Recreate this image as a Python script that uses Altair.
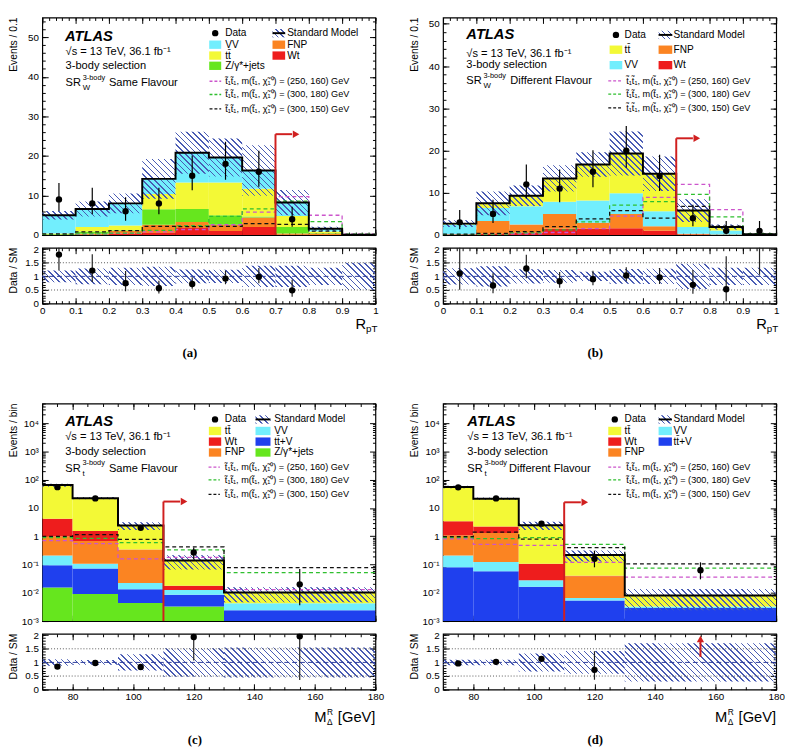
import math
import altair as alt
import pandas as pd

# ============================ values ============================
EDGES_RPT = [0.0, 0.1, 0.2, 0.3, 0.4, 0.5, 0.6, 0.7, 0.8, 0.9, 1.0]
EDGES_MDR = [70, 80, 95, 110, 130, 180]

# (a) SR_W 3-body, same flavour
A_WT = [0.0, 0.1, 0.4, 0.5, 1.8, 1.0, 2.0, 0.1, 0.0, 0.0]
A_FNP = [0.1, 0.2, 0.6, 2.1, 1.5, 1.6, 2.4, 0.3, 0.4, 0.02]
A_Z = [0.1, 0.6, 0.2, 3.9, 3.3, 2.4, 0.3, 1.6, 0.1, 0.0]
A_TT = [0.2, 1.1, 1.2, 3.9, 6.7, 8.3, 7.0, 2.8, 0.4, 0.03]
A_VV = [4.6, 4.6, 5.6, 3.8, 7.5, 6.3, 4.6, 3.4, 0.7, 0.05]
A_UNC = [1.1, 1.9, 2.5, 5.0, 5.3, 4.8, 6.4, 3.2, 0.5, 0.05]
A_DATA = [9, 8, 6, 8, 15, 18, 16, 4, None, None]
A_DLO = [6.06, 5.23, 3.62, 5.23, 11.3, 14.0, 12.2, 2.09, None, None]
A_DHI = [13.17, 11.98, 9.58, 11.98, 20.1, 23.6, 21.3, 7.16, None, None]
A_SIG_250_160 = [0.1, 0.2, 0.4, 0.8, 1.4, 2.6, 5.8, 9.7, 5.0, 0.3]
A_SIG_300_180 = [0.1, 0.3, 0.5, 1.2, 2.4, 4.7, 6.6, 8.6, 3.4, 0.2]
A_SIG_300_150 = [0.3, 0.8, 1.1, 2.2, 2.1, 2.2, 2.9, 2.7, 1.0, 0.1]

# (b) SR_W 3-body, different flavour
B_WT = [0.1, 0.3, 0.6, 1.5, 1.5, 1.6, 1.0, 0.1, 0.0, 0.0]
B_FNP = [0.1, 3.0, 1.9, 3.5, 1.4, 3.4, 1.1, 0.2, 0.1, 0.02]
B_VV = [2.3, 3.1, 4.3, 2.9, 5.3, 4.9, 3.5, 1.6, 1.0, 0.08]
B_TT = [0.2, 1.1, 2.5, 5.5, 8.5, 9.4, 8.9, 3.9, 0.8, 0.06]
B_UNC = [0.8, 2.8, 2.4, 3.1, 2.9, 5.2, 4.1, 2.7, 0.6, 0.05]
B_DATA = [3, 5, 12, 11, 15, 20, 14, 4, 1, 1]
B_DLO = [1.37, 2.84, 8.63, 7.77, 11.3, 15.9, 10.4, 2.09, 0.17, 0.17]
B_DHI = [5.92, 8.38, 16.7, 15.53, 20.1, 25.8, 19.0, 7.16, 3.3, 3.3]
B_SIG_250_160 = [0.1, 0.2, 0.3, 0.6, 1.5, 4.5, 8.9, 12.0, 6.0, 0.3]
B_SIG_300_180 = [0.1, 0.2, 0.5, 1.2, 3.1, 7.1, 7.9, 9.6, 4.3, 0.3]
B_SIG_300_150 = [0.2, 0.4, 0.8, 2.0, 3.8, 5.8, 4.0, 6.8, 2.1, 0.1]

# (c) SR_t 3-body, same flavour
C_Z = [0.0155, 0.009, 0.0044, 0.0033, 0.0]
C_TTV = [0.080, 0.063, 0.0091, 0.0052, 0.0024]
C_VV = [0.115, 0.035, 0.0089, 0.0041, 0.0019]
C_FNP = [0.79, 0.58, 0.31, 0.0, 0.0]
C_WT = [3.2, 0.85, 0.01, 0.0051, 0.0]
C_TT = [60.8, 20.9, 2.06, 0.122, 0.0059]
C_UNC = [7.8, 2.0, 0.72, 0.073, 0.0056]
C_DATA = [55, 22, 2.0, 0.27, 0.02]
C_DLO = [50, 20, 1.85, 0.15, 0.0036]
C_DHI = [60, 24, 2.15, 0.40, 0.07]
C_SIG_250_160 = [0.70, 0.55, 0.16, 0.18, 0.013]
C_SIG_300_180 = [0.90, 0.85, 0.60, 0.33, 0.052]
C_SIG_300_150 = [1.00, 1.15, 0.78, 0.42, 0.078]

# (d) SR_t 3-body, different flavour
D_TTV = [0.081, 0.058, 0.0165, 0.0053, 0.0029]
D_VV = [0.13, 0.065, 0.0115, 0.0012, 0.0004]
D_FNP = [0.87, 1.2, 0.0, 0.032, 0.0]
D_WT = [2.3, 0.9, 0.079, 0.0015, 0.0]
D_TT = [52.6, 19.3, 2.37, 0.18, 0.0047]
D_UNC = [5.6, 2.2, 0.82, 0.092, 0.0056]
D_DATA = [54, 22, 2.8, 0.16, 0.063]
D_DLO = [49, 20, 2.65, 0.08, 0.03]
D_DHI = [59, 24, 2.95, 0.31, 0.12]
D_SIG_250_160 = [0.82, 0.52, 0.48, 0.12, 0.036]
D_SIG_300_180 = [0.90, 0.83, 0.90, 0.52, 0.075]
D_SIG_300_150 = [0.97, 1.40, 0.80, 0.40, 0.105]

LABELS = {"data": "Data", "SM": "Standard Model", "VV": "VV", "tt": "tt\u0304",
          "Z": "Z/\u03b3*+jets", "FNP": "FNP", "Wt": "Wt", "ttV": "tt\u0304+V"}
SIG_TEXT = ["t\u0303\u2081t\u0303\u2081, m(t\u0303\u2081, \u03c7\u0303\u2081\u2070) = (250, 160) GeV",
            "t\u0303\u2081t\u0303\u2081, m(t\u0303\u2081, \u03c7\u0303\u2081\u2070) = (300, 180) GeV",
            "t\u0303\u2081t\u0303\u2081, m(t\u0303\u2081, \u03c7\u0303\u2081\u2070) = (300, 150) GeV"]

# ============================ style ============================
FONT = "Liberation Sans"
SERIF = "Liberation Serif"
W, H, HR = 340, 222, 57
RMAX = 2.05
YT_OFF = -33.5          # px position of the rotated y titles, left of the frame
RED = "#d01f1f"
HATCH = "#4a5cb4"
CLEAR = "rgba(255,255,255,0)"
SIG_COLORS = ["#cc55cc", "#2fbf2f", "#111111"]
COMP_COLORS = {"VV": "#72eefd", "tt": "#f3f936", "Z": "#66e61e", "FNP": "#fb8422",
               "Wt": "#ee1d1d", "ttV": "#1f40ee"}
COMP_SCALE = alt.Scale(domain=list(COMP_COLORS), range=list(COMP_COLORS.values()))

LOG_LABELS = {-3: "10\u207b\u00b3", -2: "10\u207b\u00b2", -1: "10\u207b\u00b9", 0: "1", 1: "10",
              2: "10\u00b2", 3: "10\u00b3", 4: "10\u2074"}
LOG_EXPR = "".join(f"abs(log(datum.value)/LN10 - ({k})) < 0.01 ? '{s}' : " for k, s in LOG_LABELS.items()) + "''"
LIN_EXPR = "'' + datum.value"


class Frame:
    def __init__(self, xdom, ydom, log, w, h):
        self.xdom, self.ydom, self.log, self.w, self.h = xdom, ydom, log, w, h
        self.xs = alt.Scale(domain=list(xdom), nice=False, zero=False)
        if log:
            self.ys = alt.Scale(type="log", domain=list(ydom), nice=False)
        else:
            self.ys = alt.Scale(domain=list(ydom), nice=False, zero=False)

    def X(self, f):
        return alt.X(f"{f}:Q", scale=self.xs, axis=None)

    def Y(self, f):
        return alt.Y(f"{f}:Q", scale=self.ys, axis=None)

    def fy(self, v):
        a, b = self.ydom
        if self.log:
            return (math.log10(v) - math.log10(a)) / (math.log10(b) - math.log10(a))
        return (v - a) / (b - a)

    def xv(self, f):
        a, b = self.xdom
        return a + f * (b - a)

    def yv(self, f):
        a, b = self.ydom
        if self.log:
            return 10 ** (math.log10(a) + f * (math.log10(b) - math.log10(a)))
        return a + f * (b - a)

    def wpx(self, x0, x1):
        return abs(x1 - x0) / (self.xdom[1] - self.xdom[0]) * self.w

    def hpx(self, y0, y1):
        return abs(self.fy(y1) - self.fy(y0)) * self.h


def hatch_fill(wpx, hpx, spacing=4.3, frac=0.27):
    wpx = max(float(wpx), 1.0)
    hpx = max(float(hpx), 1.0)
    vx, vy = 1.0 / hpx, -1.0 / wpx
    rng = 1.0 / hpx + 1.0 / wpx
    k = rng / (vx * vx + vy * vy)
    n = max(1, int(round((wpx + hpx) / math.sqrt(2) / spacing)))
    stops = []
    for i in range(n):
        a, b, c = i / n, (i + frac) / n, (i + 1) / n
        stops += [{"offset": round(a, 5), "color": HATCH}, {"offset": round(b, 5), "color": HATCH},
                  {"offset": round(b, 5), "color": CLEAR}, {"offset": round(c, 5), "color": CLEAR}]
    return {"gradient": "linear", "x1": 0, "y1": 1, "x2": round(vx * k, 5), "y2": round(1 + vy * k, 5),
            "stops": stops}


def rect_layer(fr, x0, x1, y0, y1, **mk):
    df = pd.DataFrame([{"x": x0, "x2": x1, "y": y0, "y2": y1}])
    return alt.Chart(df).mark_rect(**mk).encode(x=fr.X("x"), x2=alt.X2("x2"), y=fr.Y("y"), y2=alt.Y2("y2"))


def texts(fr, items, size, weight="normal", style="normal", align="left", dx=0, dy=0, font=FONT,
          baseline="middle", angle=0):
    df = pd.DataFrame([{"x": fr.xv(fx), "y": fr.yv(fy), "t": t} for fx, fy, t in items])
    return alt.Chart(df).mark_text(font=font, fontSize=size, fontWeight=weight, fontStyle=style, align=align,
                                   baseline=baseline, dx=dx, dy=dy, angle=angle, color="black").encode(
        x=fr.X("x"), y=fr.Y("y"), text="t:N")


def ytitle_layer(fr, title):
    return texts(fr, [(YT_OFF / fr.w, 1.0, title)], 10.5, align="right", baseline="top", angle=270)


def axis_layers(fr, xmaj, xmin, ymaj, ymin, xlabels, log=False):
    # invisible anchor point in the middle of the frame, only to carry the axes
    df = pd.DataFrame({"x": [fr.xv(0.5)], "y": [fr.yv(0.5)]})
    base = alt.Chart(df).mark_point(opacity=0, size=1)

    def ax(orient, vals, size, labels=False, **kw):
        d = dict(orient=orient, values=vals, tickSize=size, offset=-size, labels=labels, domain=False,
                 grid=False, tickColor="black", tickWidth=1, title=None)
        if labels:
            d.update(labelFont=FONT, labelFontSize=10, labelColor="black", labelFlush=False,
                     labelOverlap=False)
        d.update(kw)
        return alt.Axis(**d)

    l1 = base.encode(
        x=alt.X("x:Q", scale=fr.xs, axis=ax("bottom", xmaj, 6, labels=xlabels, labelPadding=2,
                                               labelExpr=LIN_EXPR)),
        y=alt.Y("y:Q", scale=fr.ys, axis=ax("left", ymaj, 6, labels=True, labelPadding=4,
                                               labelExpr=LOG_EXPR if log else LIN_EXPR)))
    l2 = base.encode(x=alt.X("x:Q", scale=fr.xs, axis=ax("bottom", xmin, 3)),
                     y=alt.Y("y:Q", scale=fr.ys, axis=ax("left", ymin, 3)))
    l3 = base.encode(x=alt.X("x:Q", scale=fr.xs, axis=ax("top", xmaj, 6)),
                     y=alt.Y("y:Q", scale=fr.ys, axis=ax("right", ymaj, 6)))
    l4 = base.encode(x=alt.X("x:Q", scale=fr.xs, axis=ax("top", xmin, 3)),
                     y=alt.Y("y:Q", scale=fr.ys, axis=ax("right", ymin, 3)))
    return [l1, l2, l3, l4]


def legend_layers(fr, lg):
    out = []
    bh = 8.5 / fr.h
    boxes, circles, hatch_boxes, txt = [], [], [], []
    for (x0, x1, xt), names in ((lg["c1"], lg["col1"]), (lg["c2"], lg["col2"])):
        for fy, nm in zip(lg["rows"], names):
            txt.append((xt, fy, LABELS[nm]))
            if nm == "data":
                circles.append({"x": fr.xv((x0 + x1) / 2), "y": fr.yv(fy)})
            elif nm == "SM":
                hatch_boxes.append((x0, x1, fy))
            else:
                boxes.append({"x": fr.xv(x0), "x2": fr.xv(x1), "y": fr.yv(fy - bh / 2),
                              "y2": fr.yv(fy + bh / 2), "c": COMP_COLORS[nm]})
    out.append(alt.Chart(pd.DataFrame(boxes)).mark_rect().encode(
        x=fr.X("x"), x2=alt.X2("x2"), y=fr.Y("y"), y2=alt.Y2("y2"), color=alt.Color("c:N", scale=None)))
    for x0, x1, fy in hatch_boxes:
        g = hatch_fill((x1 - x0) * fr.w, 8.5)
        out.append(rect_layer(fr, fr.xv(x0), fr.xv(x1), fr.yv(fy - bh / 2), fr.yv(fy + bh / 2), fill=g))
        df = pd.DataFrame([{"x": fr.xv(x0), "x2": fr.xv(x1), "y": fr.yv(fy)}])
        out.append(alt.Chart(df).mark_rule(color="black", strokeWidth=2).encode(
            x=fr.X("x"), x2=alt.X2("x2"), y=fr.Y("y")))
    out.append(alt.Chart(pd.DataFrame(circles)).mark_circle(size=42, color="black", opacity=1).encode(
        x=fr.X("x"), y=fr.Y("y")))
    x0, x1, xt = lg["sl"]
    for fy, col in zip(lg["srows"], SIG_COLORS):
        df = pd.DataFrame([{"x": fr.xv(x0), "x2": fr.xv(x1), "y": fr.yv(fy)}])
        out.append(alt.Chart(df).mark_rule(color=col, strokeDash=[3, 2], strokeWidth=1.3).encode(
            x=fr.X("x"), x2=alt.X2("x2"), y=fr.Y("y")))
    out.append(texts(fr, txt, 10.3))
    out.append(texts(fr, [(xt, fy, lab) for fy, lab in zip(lg["srows"], SIG_TEXT)], 9.3))
    return out


def totals(p):
    nb = len(p["edges"]) - 1
    return [sum(v[i] for _, v in p["comps"]) for i in range(nb)]


def build_main(p):
    fr = Frame(p["xdom"], p["ydom"], p["log"], W, H)
    e = p["edges"]
    nb = len(e) - 1
    sm = totals(p)
    base_y = p["ydom"][0]
    layers = []
    rows = []
    for i in range(nb):
        cum = 0.0
        for name, vals in p["comps"]:
            lo, hi = cum, cum + vals[i]
            cum = hi
            if vals[i] <= 0:
                continue
            lo = max(lo, base_y)
            if hi <= lo:
                continue
            rows.append({"x": e[i], "x2": e[i + 1], "y": lo, "y2": hi, "comp": name})
    layers.append(alt.Chart(pd.DataFrame(rows)).mark_rect(clip=True).encode(
        x=fr.X("x"), x2=alt.X2("x2"), y=fr.Y("y"), y2=alt.Y2("y2"),
        color=alt.Color("comp:N", scale=COMP_SCALE, legend=None)))
    # uncertainty hatching
    for i in range(nb):
        if sm[i] <= 0:
            continue
        lo = max(sm[i] - p["unc"][i], base_y)
        hi = min(sm[i] + p["unc"][i], p["ydom"][1])
        g = hatch_fill(fr.wpx(e[i], e[i + 1]), fr.hpx(lo, hi))
        layers.append(rect_layer(fr, e[i], e[i + 1], lo, hi, fill=g, clip=True))
    # signals
    for vals, col in zip(p["sig"], SIG_COLORS):
        df = pd.DataFrame({"x": list(e), "y": list(vals) + [vals[-1]]})
        layers.append(alt.Chart(df).mark_line(interpolate="step-after", color=col, strokeDash=[4, 3],
                                              strokeWidth=1.3, clip=True).encode(x=fr.X("x"), y=fr.Y("y")))
    # SM total
    df = pd.DataFrame({"x": list(e), "y": sm + [sm[-1]]})
    layers.append(alt.Chart(df).mark_line(interpolate="step-after", color="black", strokeWidth=2,
                                          clip=True).encode(x=fr.X("x"), y=fr.Y("y")))
    # data
    pts = [{"x": (e[i] + e[i + 1]) / 2, "y": p["data"][i], "lo": p["dlo"][i], "hi": p["dhi"][i]}
           for i in range(nb) if p["data"][i] is not None]
    dfp = pd.DataFrame(pts)
    layers.append(alt.Chart(dfp).mark_rule(color="black", strokeWidth=1.2, clip=True).encode(
        x=fr.X("x"), y=fr.Y("lo"), y2=alt.Y2("hi")))
    layers.append(alt.Chart(dfp).mark_circle(size=42, color="black", opacity=1, clip=True).encode(
        x=fr.X("x"), y=fr.Y("y")))
    # cut arrow
    ar = p["arrow"]
    xe = ar["cut"] + 17 / W * (p["xdom"][1] - p["xdom"][0])
    xt = ar["cut"] + 21 / W * (p["xdom"][1] - p["xdom"][0])
    layers.append(alt.Chart(pd.DataFrame([{"x": ar["cut"], "y": base_y, "y2": ar["top"]}])).mark_rule(
        color=RED, strokeWidth=2).encode(x=fr.X("x"), y=fr.Y("y"), y2=alt.Y2("y2")))
    layers.append(alt.Chart(pd.DataFrame([{"x": ar["cut"], "x2": xe, "y": ar["top"]}])).mark_rule(
        color=RED, strokeWidth=2).encode(x=fr.X("x"), x2=alt.X2("x2"), y=fr.Y("y")))
    layers.append(alt.Chart(pd.DataFrame([{"x": xt, "y": ar["top"]}])).mark_point(
        shape="triangle-right", filled=True, size=60, color=RED, opacity=1).encode(x=fr.X("x"), y=fr.Y("y")))
    # legend and labels
    layers += legend_layers(fr, p["leg"])
    a = p["ann"]
    layers.append(texts(fr, [(a["atlas"][0], a["atlas"][1], "ATLAS")], 15, weight="bold", style="italic"))
    x, fys = a["x"], a["fys"]
    layers.append(texts(fr, [(x, fys[0], "\u221as = 13 TeV, 36.1 fb\u207b\u00b9"),
                             (x, fys[1], "3-body selection"), (x, fys[2], "SR"),
                             (a["flav_x"], fys[2], p["flavour"])], 11.3))
    layers.append(texts(fr, [(x, fys[2], "3-body")], 7.5, dx=17.5, dy=-5.5))
    layers.append(texts(fr, [(x, fys[2], p["sr_sub"])], 8, dx=17.5, dy=5))
    layers.append(ytitle_layer(fr, p["ytitle"]))
    layers += axis_layers(fr, p["xmaj"], p["xmin"], p["ymaj"], p["ymin"], False, p["log"])
    return alt.layer(*layers).resolve_axis(x="independent", y="independent").properties(width=W, height=H)


def build_ratio(p):
    fr = Frame(p["xdom"], (0.0, RMAX), False, W, HR)
    e = p["edges"]
    nb = len(e) - 1
    sm = totals(p)
    layers = []
    for i in range(nb):
        if sm[i] <= 0:
            continue
        rel = p["unc"][i] / sm[i]
        lo, hi = max(0.0, 1 - rel), min(RMAX, 1 + rel)
        g = hatch_fill(fr.wpx(e[i], e[i + 1]), fr.hpx(lo, hi))
        layers.append(rect_layer(fr, e[i], e[i + 1], lo, hi, fill=g, clip=True))
    layers.append(alt.Chart(pd.DataFrame({"y": [0.5, 1.5]})).mark_rule(
        color="#555555", strokeDash=[1, 2], strokeWidth=1).encode(y=fr.Y("y")))
    layers.append(alt.Chart(pd.DataFrame({"y": [1.0]})).mark_rule(
        color="#2a3a9a", strokeDash=[5, 3], strokeWidth=1).encode(y=fr.Y("y")))
    pts = [{"x": (e[i] + e[i + 1]) / 2, "r": p["data"][i] / sm[i], "lo": p["dlo"][i] / sm[i],
            "hi": p["dhi"][i] / sm[i]} for i in range(nb) if p["data"][i] is not None]
    dfp = pd.DataFrame(pts)
    layers.append(alt.Chart(dfp).mark_rule(color="#222222", strokeWidth=1.2, clip=True).encode(
        x=fr.X("x"), y=fr.Y("lo"), y2=alt.Y2("hi")))
    layers.append(alt.Chart(dfp).mark_circle(size=42, color="black", opacity=1, clip=True).encode(
        x=fr.X("x"), y=fr.Y("r")))
    if "rarrow" in p:
        ra = p["rarrow"]
        layers.append(alt.Chart(pd.DataFrame([{"x": ra["x"], "y": ra["y0"], "y2": ra["y1"]}])).mark_rule(
            color=RED, strokeWidth=2).encode(x=fr.X("x"), y=fr.Y("y"), y2=alt.Y2("y2")))
        layers.append(alt.Chart(pd.DataFrame([{"x": ra["x"], "y": ra["tip"]}])).mark_point(
            shape="triangle-up", filled=True, size=55, color=RED, opacity=1).encode(x=fr.X("x"), y=fr.Y("y")))
    fy = p["xt_fy"]
    if p["xtitle"] == "rpt":
        layers.append(texts(fr, [(0.972, fy, "R")], 15, align="right"))
        layers.append(texts(fr, [(0.972, fy, "pT")], 10, dy=5))
    else:
        layers.append(texts(fr, [(1.0, fy, "[GeV]")], 15, align="right"))
        layers.append(texts(fr, [(1.0, fy, "M")], 15, align="right", dx=-50))
        layers.append(texts(fr, [(1.0, fy, "\u0394")], 8.5, dx=-49.5, dy=5))
        layers.append(texts(fr, [(1.0, fy, "R")], 8.5, dx=-49.5, dy=-6))
    layers.append(texts(fr, [(p["tag_fx"], p["tag_fy"], p["tag"])], 13, weight="bold", font=SERIF,
                        align="center"))
    layers.append(ytitle_layer(fr, "Data / SM"))
    rmaj = [0, 0.5, 1, 1.5, 2]
    rmin = [round(0.1 * k, 1) for k in range(0, 21)]
    layers += axis_layers(fr, p["xmaj"], p["xmin"], rmaj, rmin, True)
    return alt.layer(*layers).resolve_axis(x="independent", y="independent").properties(width=W, height=HR)


RPT_MAJ = [round(0.1 * k, 1) for k in range(11)]
RPT_MIN = [round(0.02 * k, 2) for k in range(51)]
MDR_MAJ = [80, 100, 120, 140, 160, 180]
MDR_MIN = list(range(70, 181, 5))
LIN_MIN = list(range(0, 55, 2))
LOG_MAJ = [10.0 ** k for k in range(-3, 5)]
LOG_MIN = [m * 10.0 ** k for k in range(-3, 5) for m in range(2, 10) if m * 10.0 ** k <= 5e4]

PANELS = [
    dict(edges=EDGES_RPT, xdom=(0.0, 1.0), ydom=(0.0, 55.0), log=False,
         comps=[("Wt", A_WT), ("FNP", A_FNP), ("Z", A_Z), ("tt", A_TT), ("VV", A_VV)],
         unc=A_UNC, data=A_DATA, dlo=A_DLO, dhi=A_DHI, sig=[A_SIG_250_160, A_SIG_300_180, A_SIG_300_150],
         ytitle="Events / 0.1", flavour="Same Flavour", sr_sub="W", tag="(a)", tag_fx=0.443, tag_fy=-0.89,
         xtitle="rpt", xt_fy=-0.37, xmaj=RPT_MAJ, xmin=RPT_MIN, ymaj=[0, 10, 20, 30, 40, 50], ymin=LIN_MIN,
         ann=dict(atlas=(0.068, 0.916), x=0.070, fys=[0.841, 0.778, 0.698], flav_x=0.200),
         leg=dict(rows=[0.928, 0.875, 0.825, 0.778], srows=[0.707, 0.646, 0.580],
                  c1=(0.501, 0.537, 0.549), c2=(0.691, 0.729, 0.735), sl=(0.502, 0.537, 0.549),
                  col1=["data", "VV", "tt", "Z"], col2=["SM", "FNP", "Wt"]),
         arrow=dict(cut=0.7, top=25.5)),
    dict(edges=EDGES_RPT, xdom=(0.0, 1.0), ydom=(0.0, 51.5), log=False,
         comps=[("Wt", B_WT), ("FNP", B_FNP), ("VV", B_VV), ("tt", B_TT)],
         unc=B_UNC, data=B_DATA, dlo=B_DLO, dhi=B_DHI, sig=[B_SIG_250_160, B_SIG_300_180, B_SIG_300_150],
         ytitle="Events / 0.1", flavour="Different Flavour", sr_sub="W", tag="(b)", tag_fx=0.457, tag_fy=-0.89,
         xtitle="rpt", xt_fy=-0.37, xmaj=RPT_MAJ, xmin=RPT_MIN, ymaj=[0, 10, 20, 30, 40, 50], ymin=LIN_MIN[:26],
         ann=dict(atlas=(0.070, 0.924), x=0.070, fys=[0.834, 0.781, 0.706], flav_x=0.202),
         leg=dict(rows=[0.920, 0.852, 0.781], srows=[0.709, 0.648, 0.585],
                  c1=(0.500, 0.538, 0.545), c2=(0.647, 0.688, 0.692), sl=(0.496, 0.535, 0.550),
                  col1=["data", "tt", "VV"], col2=["SM", "FNP", "Wt"]),
         arrow=dict(cut=0.7, top=22.9)),
    dict(edges=EDGES_MDR, xdom=(70, 180), ydom=(1e-3, 5e4), log=True,
         comps=[("Z", C_Z), ("ttV", C_TTV), ("VV", C_VV), ("FNP", C_FNP), ("Wt", C_WT), ("tt", C_TT)],
         unc=C_UNC, data=C_DATA, dlo=C_DLO, dhi=C_DHI, sig=[C_SIG_250_160, C_SIG_300_180, C_SIG_300_150],
         ytitle="Events / bin", flavour="Same Flavour", sr_sub="t", tag="(c)", tag_fx=0.458, tag_fy=-0.907,
         xtitle="mdr", xt_fy=-0.50, xmaj=MDR_MAJ, xmin=MDR_MIN, ymaj=LOG_MAJ, ymin=LOG_MIN,
         ann=dict(atlas=(0.069, 0.918), x=0.069, fys=[0.845, 0.777, 0.700], flav_x=0.200),
         leg=dict(rows=[0.927, 0.874, 0.825, 0.775], srows=[0.708, 0.649, 0.582],
                  c1=(0.500, 0.537, 0.548), c2=(0.640, 0.685, 0.696), sl=(0.499, 0.533, 0.548),
                  col1=["data", "tt", "Wt", "FNP"], col2=["SM", "VV", "ttV", "Z"]),
         arrow=dict(cut=110, top=17)),
    dict(edges=EDGES_MDR, xdom=(70, 180), ydom=(1e-3, 5e4), log=True,
         comps=[("ttV", D_TTV), ("VV", D_VV), ("FNP", D_FNP), ("Wt", D_WT), ("tt", D_TT)],
         unc=D_UNC, data=D_DATA, dlo=D_DLO, dhi=D_DHI, sig=[D_SIG_250_160, D_SIG_300_180, D_SIG_300_150],
         ytitle="Events / bin", flavour="Different Flavour", sr_sub="t", tag="(d)", tag_fx=0.457, tag_fy=-0.907,
         xtitle="mdr", xt_fy=-0.50, xmaj=MDR_MAJ, xmin=MDR_MIN, ymaj=LOG_MAJ, ymin=LOG_MIN,
         ann=dict(atlas=(0.073, 0.918), x=0.073, fys=[0.845, 0.777, 0.700], flav_x=0.198),
         leg=dict(rows=[0.927, 0.874, 0.825, 0.775], srows=[0.708, 0.649, 0.582],
                  c1=(0.496, 0.535, 0.545), c2=(0.647, 0.687, 0.692), sl=(0.496, 0.533, 0.550),
                  col1=["data", "tt", "Wt", "FNP"], col2=["SM", "VV", "ttV"]),
         arrow=dict(cut=110, top=16),
         rarrow=dict(x=155, y0=1.2, y1=1.78, tip=1.86)),
]

cols = [alt.vconcat(build_main(p), build_ratio(p), spacing=2) for p in PANELS]
chart = alt.concat(*cols, columns=2, spacing={"row": 41, "column": 25}).properties(
    padding=0).configure_view(stroke="black", strokeWidth=1.2)

chart.save("out.html", embed_options={"renderer": "svg", "actions": False})
